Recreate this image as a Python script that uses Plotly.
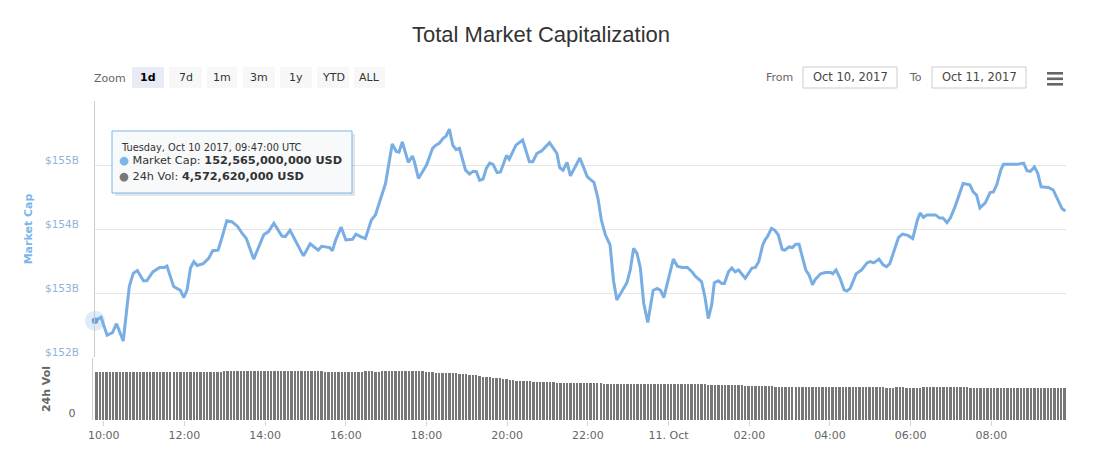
import pandas as pd
import plotly.graph_objects as go

W, H = 1103, 451
BLUE = '#7cb5ec'
LINE_BLUE = '#78aee4'
FONT = 'DejaVu Sans'

# market cap: minutes after Oct 10 10:00 / billions USD
cap_minutes = [
    -13, -4, 5, 13, 19, 29, 38, 44, 50, 59,
    64, 73, 83, 90, 94, 104, 114, 119, 124, 129,
    134, 139, 148, 156, 162, 170, 174, 183, 191, 199,
    206, 212, 223, 238, 245, 253, 265, 270, 277, 297,
    307, 319, 324, 336, 340, 345, 353, 360, 370, 375,
    382, 389, 398, 404, 419, 429, 435, 439, 444, 453,
    459, 462, 468, 480, 489, 494, 499, 505, 509, 514,
    519, 524, 529, 538, 544, 549, 554, 559, 564, 569,
    574, 579, 585, 590, 599, 603, 613, 623, 633, 638,
    644, 651, 663, 674, 678, 683, 689, 694, 708, 719,
    724, 729, 735, 740, 746, 753, 758, 763, 778, 783,
    788, 793, 798, 803, 809, 817, 823, 828, 833, 847,
    853, 860, 868, 875, 880, 889, 894, 899, 904, 908,
    914, 919, 923, 929, 934, 939, 944, 954, 964, 969,
    974, 980, 984, 987, 993, 998, 1003, 1009, 1013, 1019,
    1024, 1029, 1034, 1044, 1049, 1054, 1058, 1066, 1073, 1081,
    1084, 1089, 1095, 1101, 1105, 1110, 1119, 1127, 1135, 1140,
    1145, 1153, 1159, 1164, 1169, 1182, 1188, 1196, 1203, 1210,
    1214, 1219, 1224, 1237, 1243, 1248, 1254, 1259, 1266, 1278,
    1288, 1293, 1298, 1303, 1311, 1318, 1323, 1328, 1334, 1338,
    1357, 1368, 1373, 1378, 1384, 1389, 1394, 1405, 1412, 1418,
    1425, 1430,
]
cap_values = [
    152.565, 152.62, 152.34, 152.38, 152.52, 152.25, 153.10, 153.31, 153.35, 153.19,
    153.19, 153.33, 153.40, 153.40, 153.42, 153.10, 153.04, 152.93, 153.05, 153.39,
    153.49, 153.43, 153.46, 153.54, 153.66, 153.67, 153.80, 154.13, 154.11, 154.04,
    153.93, 153.85, 153.53, 153.91, 153.96, 154.09, 153.89, 153.88, 153.98, 153.58,
    153.77, 153.67, 153.73, 153.71, 153.66, 153.83, 154.03, 153.83, 153.84, 153.92,
    153.88, 153.85, 154.14, 154.22, 154.71, 155.33, 155.21, 155.20, 155.36, 155.04,
    155.14, 155.05, 154.79, 155.00, 155.26, 155.31, 155.34, 155.42, 155.45, 155.56,
    155.31, 155.24, 155.26, 154.92, 154.86, 154.90, 154.90, 154.76, 154.78, 154.95,
    155.03, 155.01, 154.88, 154.89, 155.15, 155.09, 155.31, 155.39, 155.05, 155.05,
    155.18, 155.22, 155.35, 155.18, 154.96, 154.92, 155.04, 154.83, 155.11, 154.82,
    154.77, 154.73, 154.48, 154.14, 153.91, 153.75, 153.20, 152.89, 153.16, 153.36,
    153.70, 153.62, 153.39, 152.84, 152.54, 153.04, 153.07, 153.04, 152.93, 153.53,
    153.42, 153.40, 153.40, 153.33, 153.26, 153.18, 152.94, 152.60, 152.81, 153.16,
    153.19, 153.15, 153.15, 153.33, 153.39, 153.33, 153.36, 153.23, 153.39, 153.40,
    153.49, 153.75, 153.84, 153.88, 154.01, 153.98, 153.91, 153.68, 153.67, 153.72,
    153.71, 153.76, 153.76, 153.36, 153.28, 153.13, 153.21, 153.30, 153.32, 153.32,
    153.30, 153.36, 153.23, 153.05, 153.03, 153.07, 153.30, 153.36, 153.47, 153.49,
    153.47, 153.53, 153.44, 153.41, 153.46, 153.87, 153.92, 153.90, 153.85, 154.14,
    154.25, 154.18, 154.22, 154.22, 154.17, 154.17, 154.10, 154.17, 154.35, 154.71,
    154.69, 154.58, 154.53, 154.33, 154.41, 154.57, 154.58, 154.69, 154.92, 155.01,
    155.01, 155.03, 154.91, 154.90, 154.97, 154.87, 154.66, 154.65, 154.61, 154.48,
    154.32, 154.28,
]

# 24h volume in billions USD, one bar every 5 minutes, 12 per row
vol_values = [
    4.57, 4.57, 4.57, 4.57, 4.57, 4.57, 4.57, 4.57, 4.57, 4.57, 4.57, 4.57,
    4.57, 4.57, 4.57, 4.57, 4.57, 4.57, 4.57, 4.57, 4.57, 4.57, 4.57, 4.57,
    4.57, 4.57, 4.57, 4.57, 4.57, 4.57, 4.57, 4.57, 4.57, 4.57, 4.57, 4.57,
    4.57, 4.57, 4.67, 4.67, 4.67, 4.67, 4.67, 4.67, 4.64, 4.62, 4.62, 4.67,
    4.67, 4.67, 4.67, 4.67, 4.67, 4.67, 4.67, 4.67, 4.64, 4.62, 4.64, 4.67,
    4.67, 4.67, 4.67, 4.67, 4.67, 4.67, 4.67, 4.62, 4.57, 4.57, 4.57, 4.57,
    4.57, 4.57, 4.57, 4.57, 4.57, 4.57, 4.57, 4.60, 4.64, 4.67, 4.62, 4.57,
    4.57, 4.62, 4.67, 4.67, 4.67, 4.67, 4.67, 4.67, 4.67, 4.67, 4.67, 4.67,
    4.67, 4.62, 4.57, 4.57, 4.57, 4.52, 4.48, 4.48, 4.48, 4.48, 4.48, 4.48,
    4.38, 4.38, 4.38, 4.29, 4.29, 4.29, 4.20, 4.12, 4.12, 4.12, 4.04, 3.96,
    3.96, 3.87, 3.87, 3.80, 3.76, 3.71, 3.71, 3.71, 3.71, 3.71, 3.61, 3.61,
    3.61, 3.61, 3.61, 3.61, 3.61, 3.52, 3.52, 3.52, 3.52, 3.52, 3.52, 3.52,
    3.52, 3.52, 3.52, 3.52, 3.52, 3.52, 3.52, 3.42, 3.42, 3.42, 3.42, 3.42,
    3.42, 3.42, 3.42, 3.42, 3.42, 3.42, 3.42, 3.42, 3.42, 3.42, 3.42, 3.42,
    3.42, 3.42, 3.42, 3.42, 3.42, 3.42, 3.42, 3.42, 3.42, 3.42, 3.42, 3.42,
    3.42, 3.42, 3.33, 3.33, 3.33, 3.33, 3.33, 3.33, 3.33, 3.33, 3.33, 3.33,
    3.33, 3.28, 3.26, 3.26, 3.26, 3.26, 3.26, 3.26, 3.26, 3.22, 3.17, 3.17,
    3.17, 3.17, 3.17, 3.17, 3.17, 3.17, 3.17, 3.17, 3.17, 3.17, 3.17, 3.17,
    3.17, 3.17, 3.14, 3.17, 3.17, 3.14, 3.17, 3.17, 3.14, 3.17, 3.17, 3.14,
    3.14, 3.14, 3.17, 3.17, 3.17, 3.14, 3.12, 3.06, 3.06, 3.06, 3.14, 3.14,
    3.14, 3.08, 3.06, 3.06, 3.06, 3.06, 3.12, 3.14, 3.14, 3.14, 3.14, 3.14,
    3.14, 3.12, 3.14, 3.14, 3.14, 3.14, 3.14, 3.14, 3.06, 3.06, 3.06, 3.06,
    3.06, 3.06, 3.06, 3.06, 3.06, 3.06, 3.06, 3.06, 3.06, 3.06, 3.06, 3.06,
    3.06, 3.06, 3.06, 3.06, 3.06, 3.06, 3.06, 3.06, 3.06, 3.06, 3.06, 3.06,
    3.06,
]

cap_ticks = [152, 153, 154, 155]
cap_labels = ['$152B', '$153B', '$154B', '$155B']
time_ticks = ['2017-10-10 10:00', '2017-10-10 12:00', '2017-10-10 14:00', '2017-10-10 16:00',
              '2017-10-10 18:00', '2017-10-10 20:00', '2017-10-10 22:00', '2017-10-11 00:00',
              '2017-10-11 02:00', '2017-10-11 04:00', '2017-10-11 06:00', '2017-10-11 08:00']
time_labels = ['10:00', '12:00', '14:00', '16:00', '18:00', '20:00', '22:00', '11. Oct',
               '02:00', '04:00', '06:00', '08:00']
zoom_buttons = [('1d', 132, 164), ('7d', 169, 202), ('1m', 207, 237), ('3m', 243, 275),
                ('1y', 280, 312), ('YTD', 317, 349), ('ALL', 354, 385)]

cap_times = pd.Timestamp('2017-10-10 10:00') + pd.to_timedelta(cap_minutes, unit='min')
vol_times = pd.date_range('2017-10-10 09:49', periods=len(vol_values), freq='5min')


def px(x):
    return x / W


def py(y):
    return 1 - y / H


def label(x, y, text, size=11, color='#666666', anchor='left', family=FONT):
    return dict(xref='paper', yref='paper', x=px(x), y=py(y), text=text, showarrow=False,
                xanchor=anchor, yanchor='middle', font=dict(family=family, size=size, color=color))


def rect(x0, y0, x1, y1, fill, line='rgba(0,0,0,0)', width=1):
    return dict(type='rect', xref='paper', yref='paper', x0=px(x0), x1=px(x1), y0=py(y0), y1=py(y1),
                fillcolor=fill, line=dict(color=line, width=width), layer='above')


fig = go.Figure()
fig.add_trace(go.Scatter(x=cap_times, y=cap_values, mode='lines', yaxis='y',
                         line=dict(color=LINE_BLUE, width=3), hoverinfo='skip', showlegend=False))
# hover halo and dot on the first point
fig.add_trace(go.Scatter(x=cap_times[:1], y=cap_values[:1], mode='markers', yaxis='y', cliponaxis=False,
                         marker=dict(color='rgba(124,181,236,0.25)', size=20, line_width=0),
                         hoverinfo='skip', showlegend=False))
fig.add_trace(go.Scatter(x=cap_times[:1], y=cap_values[:1], mode='markers', yaxis='y', cliponaxis=False,
                         marker=dict(color='#6a9fd8', size=6.5, line_width=0),
                         hoverinfo='skip', showlegend=False))
fig.add_trace(go.Bar(x=vol_times, y=vol_values, yaxis='y2', width=210000, marker=dict(color='#777777', line_width=0),
                     hoverinfo='skip', showlegend=False))

annotations = [label(540.5, 34, 'Total Market Capitalization', size=22, color='#333333', anchor='center',
                     family='Liberation Sans'),
               label(92, 78, 'Zoom'), label(764, 77, 'From'), label(907, 77, 'To')]
shapes = []

# range buttons
for name, x0, x1 in zoom_buttons:
    active = name == '1d'
    shapes.append(rect(x0, 67, x1, 88, '#e6ebf5' if active else '#f7f7f7'))
    annotations.append(label((x0 + x1) / 2, 77, '<b>%s</b>' % name if active else name, size=11,
                             color='#000000' if active else '#333333', anchor='center'))

# date inputs and menu icon
for x0, x1, text in [(803, 897, 'Oct 10, 2017'), (932, 1026, 'Oct 11, 2017')]:
    shapes.append(rect(x0, 67, x1, 88, '#ffffff', '#cccccc'))
    annotations.append(label((x0 + x1) / 2, 77, text, size=11.5, color='#444444', anchor='center'))
for y0 in [72, 77.5, 83]:
    shapes.append(rect(1047, y0, 1063, y0 + 2.6, '#666666'))

# tooltip
shapes.append(rect(115, 134, 355, 196, 'rgba(0,0,0,0.10)'))
shapes.append(rect(112, 131, 352, 193, '#f8f9fa', BLUE))
annotations.append(label(119, 147, 'Tuesday, Oct 10 2017, 09:47:00 UTC', size=9.8, color='#333333'))
annotations.append(label(117, 161, '<span style="color:%s">●</span> Market Cap: <b>152,565,000,000 USD</b>' % BLUE,
                         size=11.3, color='#333333'))
annotations.append(label(117, 176, '<span style="color:#777777">●</span> 24h Vol: <b>4,572,620,000 USD</b>',
                         size=11.3, color='#333333'))

fig.update_layout(
    width=W, height=H, margin=dict(l=0, r=0, t=0, b=0, autoexpand=False),
    paper_bgcolor='white', plot_bgcolor='white', bargap=0, barmode='overlay',
    annotations=annotations, shapes=shapes,
    xaxis=dict(domain=[px(95), px(1066)], anchor='y2', type='date',
               range=['2017-10-10 09:47:00', '2017-10-11 09:51:00'],
               tickmode='array', tickvals=time_ticks, ticktext=time_labels,
               ticks='outside', ticklen=5, tickcolor='#ccd6eb', showgrid=False, showline=False, zeroline=False,
               tickfont=dict(family=FONT, size=11, color='#666666')),
    yaxis=dict(domain=[py(357), py(101)], range=[152, 156], anchor='x',
               tickmode='array', tickvals=cap_ticks, ticktext=cap_labels, ticklabelshift=-5, ticklabelstandoff=13,
               tickfont=dict(family=FONT, size=10.5, color='#90b4d6'),
               gridcolor='#e6e6e6', gridwidth=1, zeroline=False,
               showline=True, linecolor='#cccccc', linewidth=1,
               title=dict(text='<b>Market Cap</b>', font=dict(family=FONT, size=11, color=BLUE), standoff=10)),
    yaxis2=dict(domain=[py(420), py(358)], range=[0, 5.9], anchor='free', position=px(91.7),
                tickmode='array', tickvals=[0], ticktext=['0'], ticklabelshift=-7, ticklabelstandoff=14,
                tickfont=dict(family=FONT, size=11, color='#666666'),
                showgrid=False, zeroline=False, showline=True, linecolor='#cccccc', linewidth=1,
                title=dict(text='<b>24h Vol</b>', font=dict(family=FONT, size=11, color='#666666'), standoff=14)),
)

fig.write_html('out.html', config=dict(displayModeBar=False), post_script="document.body.style.margin='0';")
